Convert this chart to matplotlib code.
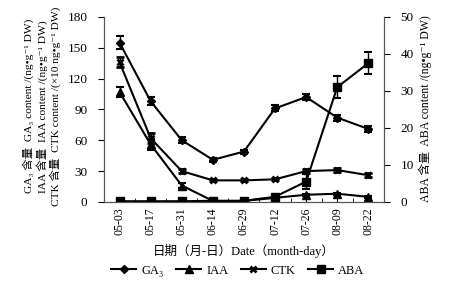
import matplotlib.pyplot as plt
from matplotlib.lines import Line2D
import numpy as np

plt.switch_backend('Agg')
plt.rcParams['font.family'] = ['Liberation Serif', 'Noto Sans CJK SC', 'DejaVu Serif']

# Data
dates = ['05-03', '05-17', '05-31', '06-14', '06-29', '07-12', '07-26', '08-09', '08-22']
ga3 = [155, 98, 60, 41, 49, 91, 102, 82, 71]
ga3_err = [6, 4, 3, 2, 2, 3, 3, 3, 3]
iaa = [107, 56, 16, 1, 1, 4, 7, 8, 5]
iaa_err = [5, 5, 2, 1, 1, 1, 1, 1, 1]
ctk = [136, 62, 30, 21, 21, 22, 30, 31, 26]
ctk_err = [5, 5, 2, 1, 1, 1, 2, 2, 2]
aba = [0.2, 0.2, 0.2, 0.3, 0.3, 1.4, 5.5, 31, 37.5]
aba_err = [0.2, 0.2, 0.2, 0.2, 0.2, 0.5, 2, 3, 3]

x = np.arange(len(dates))

fig = plt.figure(figsize=(4.49, 2.91), dpi=100)
ax = fig.add_axes([0.2316, 0.306, 0.6234, 0.636])
ax2 = ax.twinx()

style = dict(color='black', lw=1.5, capsize=3, capthick=1.5, elinewidth=1.0)
ax.errorbar(x, ga3, yerr=ga3_err, marker='D', ms=4.5, **style)
ax.errorbar(x, iaa, yerr=iaa_err, marker='^', ms=5.5, **style)
ax.errorbar(x, ctk, yerr=ctk_err, marker='x', ms=5, mew=2, **style)
ax2.errorbar(x, aba, yerr=aba_err, marker='s', ms=5.5, **style)

ax.set_xlim(-0.5, len(dates) - 0.5)
ax.set_ylim(0, 180)
ax.set_yticks(range(0, 181, 30))
ax2.set_ylim(0, 50)
ax2.set_yticks(range(0, 51, 10))

ax.set_xticks(x)
ax.set_xticklabels(dates, rotation=90, fontsize=8.5)
ax.set_xticks(x[:-1] + 0.5, minor=True)
ax.tick_params(axis='x', which='both', direction='in', length=3, pad=4)
ax.tick_params(axis='y', direction='out', length=4, labelsize=9.5, pad=8)
ax2.tick_params(axis='y', direction='out', length=4, labelsize=9.5, pad=8)

for a in (ax, ax2):
    a.spines['top'].set_visible(False)
    for s in a.spines.values():
        s.set_linewidth(0.8)
        s.set_color('#555555')

ax.set_xlabel('日期（月-日）Date（month-day）', fontsize=9, labelpad=6)

fig.text(0.062, 0.635, 'GA₃ 含量  GA₃ content /(ng•g⁻¹ DW)', rotation=90,
         ha='center', va='center', fontsize=8.2)
fig.text(0.093, 0.635, 'IAA 含量  IAA content /(ng•g⁻¹ DW)', rotation=90,
         ha='center', va='center', fontsize=8.2)
fig.text(0.123, 0.635, 'CTK 含量  CTK content /(×10 ng•g⁻¹ DW)', rotation=90,
         ha='center', va='center', fontsize=8.2)
fig.text(0.947, 0.625, 'ABA 含量  ABA content /(ng•g⁻¹ DW)', rotation=90,
         ha='center', va='center', fontsize=8.5)

handles = [Line2D([], [], color='black', lw=1.5, marker='D', ms=4.5),
           Line2D([], [], color='black', lw=1.5, marker='^', ms=5.5),
           Line2D([], [], color='black', lw=1.5, marker='x', ms=5, mew=2),
           Line2D([], [], color='black', lw=1.5, marker='s', ms=5.5)]
fig.legend(handles, ['GA₃', 'IAA', 'CTK', 'ABA'], loc='center',
           bbox_to_anchor=(0.53, 0.07), ncol=4, frameon=False, fontsize=9,
           handlelength=2.0, handletextpad=0.4, columnspacing=1.0)

plt.savefig('out.png', dpi=100)
plt.close()
